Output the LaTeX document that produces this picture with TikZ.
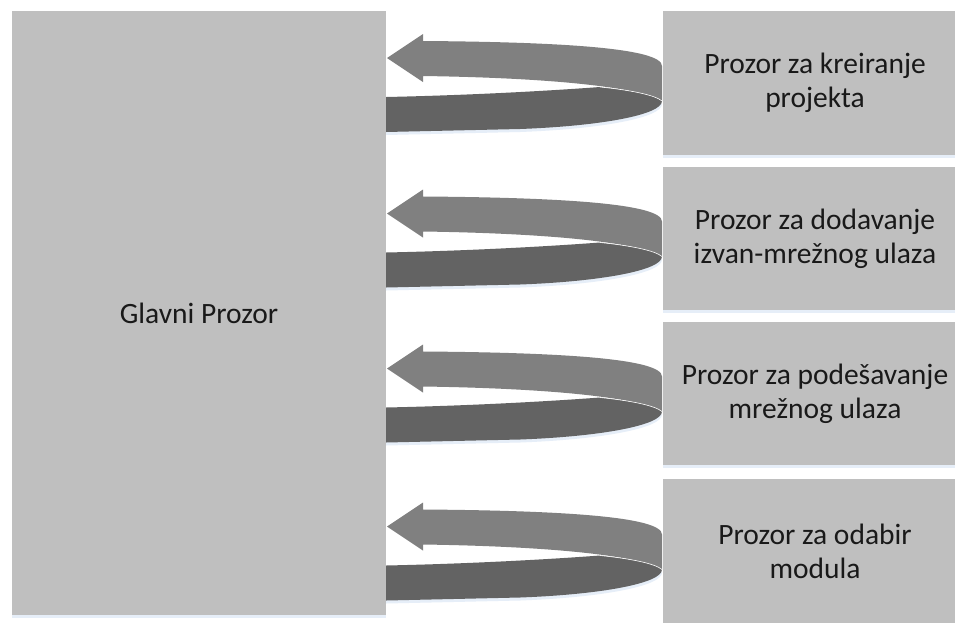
\documentclass[tikz,border=0pt]{standalone}
\usepackage{fontspec}
\setmainfont{Carlito}
\definecolor{boxgray}{HTML}{BFBFBF}
\definecolor{backband}{HTML}{808080}
\definecolor{frontband}{HTML}{636363}
\definecolor{shadowblue}{HTML}{E6EEF8}
\tikzset{
  x=1pt, y=-1pt,
  panel/.style={fill=boxgray, draw=none, inner sep=0pt, outer sep=0pt,
    font=\fontsize{29.5}{34}\selectfont, align=center, text=black!90},
  sidepanel/.style={panel, minimum width=304pt, anchor=north west},
  backpart/.style={fill=backband, draw=none},
  frontpart/.style={fill=frontband, draw=none},
}
\newcommand{\loopArrow}[1]{%
  \begin{scope}[shift={(#1)}]
    \fill[shadowblue] (0,17) .. controls (94,15) and (174,10) .. (214,7)
      .. controls (244,10) and (269,15) .. (276,21)
      .. controls (276,35) and (214,46) .. (134,49)
      -- (0,52) -- cycle;
    \fill[backpart] (1,-25) -- (37,-49) -- (37,-42)
      .. controls (174,-41) and (276,-35) .. (276,-17)
      -- (276,18)
      .. controls (254,5) and (174,-5) .. (37,-7)
      -- (37,-1) -- cycle;
    \fill[frontpart] (0,14) .. controls (94,12) and (174,7) .. (214,4)
      .. controls (244,7) and (269,12) .. (276,18)
      .. controls (276,32) and (214,43) .. (134,46)
      -- (0,49) -- cycle;
    \draw[white, line width=0.6pt] (214,4) .. controls (244,7) and (269,12) .. (276,18);
  \end{scope}}
\begin{document}
\begin{tikzpicture}
\useasboundingbox (0,0) rectangle (955,622);
\clip (0,0) rectangle (955,622);
\fill[white] (0,0) rectangle (955,622);
% soft shadows below panels
\foreach \ya/\yb in {155/158, 310/313, 465/468}
  \fill[shadowblue] (663,\ya) rectangle (955,\yb);
\fill[shadowblue] (12,615) rectangle (386,618);
% right panels (they run past the right edge of the picture)
\node[sidepanel, minimum height=144pt] (p1) at (663,11) {Prozor za kreiranje\\projekta};
\node[sidepanel, minimum height=143pt] (p2) at (663,167) {Prozor za dodavanje\\izvan-mrežnog ulaza};
\node[sidepanel, minimum height=143pt] (p3) at (663,322) {Prozor za podešavanje\\mrežnog ulaza};
\node[sidepanel, minimum height=145pt] (p4) at (663,479) {Prozor za odabir\\modula};
% main panel
\node[panel, minimum width=374pt, minimum height=604pt, anchor=north west] (main) at (12,11) {Glavni Prozor};
% loop arrows
\loopArrow{main.east |- p1.west}
\loopArrow{main.east |- p2.west}
\loopArrow{main.east |- p3.west}
\loopArrow{main.east |- p4.west}
\end{tikzpicture}
\end{document}
